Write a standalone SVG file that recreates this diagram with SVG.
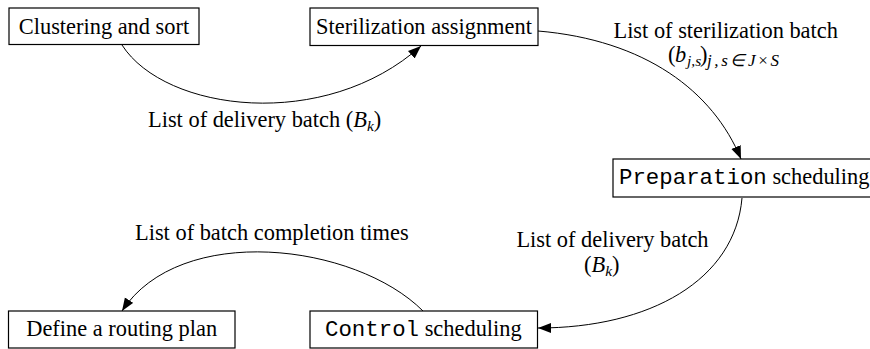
<svg xmlns="http://www.w3.org/2000/svg" width="870" height="349" viewBox="0 0 870 349">
<style>
  .box { fill: #fff; stroke: #000; stroke-width: 1.2; }
  .t { font-family: "Liberation Serif", "Times New Roman", serif; font-size: 22.4px; fill: #000; }
  .m { font-family: "Liberation Mono", "Courier New", monospace; }
  .i { font-style: italic; }
  .sub { font-size: 15.5px; font-style: italic; }
  .edge { fill: none; stroke: #000; stroke-width: 1; }
</style>
<defs>
  <marker id="arr" markerUnits="userSpaceOnUse" markerWidth="16" markerHeight="12" refX="13" refY="5" orient="auto">
    <path d="M0,0 L13,5 L0,10 z" fill="#000"/>
  </marker>
</defs>
<rect width="870" height="349" fill="#fff"/>
<g id="edges">
  <path class="edge" d="M122,45 C165,112 325,132 421,46" marker-end="url(#arr)"/>
  <path class="edge" d="M538,31 C645,40 713,91 741,159" marker-end="url(#arr)"/>
  <path class="edge" d="M742,198 C735,280 650,328 538,328" marker-end="url(#arr)"/>
  <path class="edge" d="M423,311 C355,243 180,222 122,311" marker-end="url(#arr)"/>
</g>
<g id="n1">
  <rect class="box" x="9" y="8" width="190" height="36.5"/>
  <text class="t" x="104" y="33.5" text-anchor="middle">Clustering and sort</text>
</g>
<g id="n2">
  <rect class="box" x="310" y="8" width="228" height="37.5"/>
  <text class="t" x="424" y="33.5" text-anchor="middle">Sterilization assignment</text>
</g>
<g id="n3">
  <rect class="box" x="613" y="159" width="262" height="38"/>
  <text class="t" x="619" y="183.5"><tspan class="m">Preparation</tspan> scheduling</text>
</g>
<g id="n4">
  <rect class="box" x="310" y="311" width="227.5" height="37"/>
  <text class="t" x="325" y="335.5"><tspan class="m">Control</tspan> scheduling</text>
</g>
<g id="n5">
  <rect class="box" x="8.5" y="311" width="226.5" height="37"/>
  <text class="t" x="121.7" y="335.5" text-anchor="middle">Define a routing plan</text>
</g>
<g id="labels">
  <text class="t" x="148" y="127">List of delivery batch (<tspan class="i">B</tspan><tspan class="sub" dy="4">k</tspan><tspan dy="-4">)</tspan></text>
  <text class="t" x="725.7" y="38" text-anchor="middle">List of sterilization batch</text>
  <text class="t" x="668" y="62">(</text>
  <text class="t i" x="675" y="62">b</text>
  <text class="t sub" x="687" y="66">j,s</text>
  <text class="t" x="700" y="62">)</text>
  <text class="t sub" x="707" y="66" style="font-size:17px" textLength="72" lengthAdjust="spacing">j,s∈J<tspan font-style="normal">×</tspan>S</text>
  <text class="t" x="612.5" y="246.7" text-anchor="middle">List of delivery batch</text>
  <text class="t" x="584" y="271.7">(<tspan class="i">B</tspan><tspan class="sub" dy="4">k</tspan><tspan dy="-4">)</tspan></text>
  <text class="t" x="135" y="240">List of batch completion times</text>
</g>
</svg>
